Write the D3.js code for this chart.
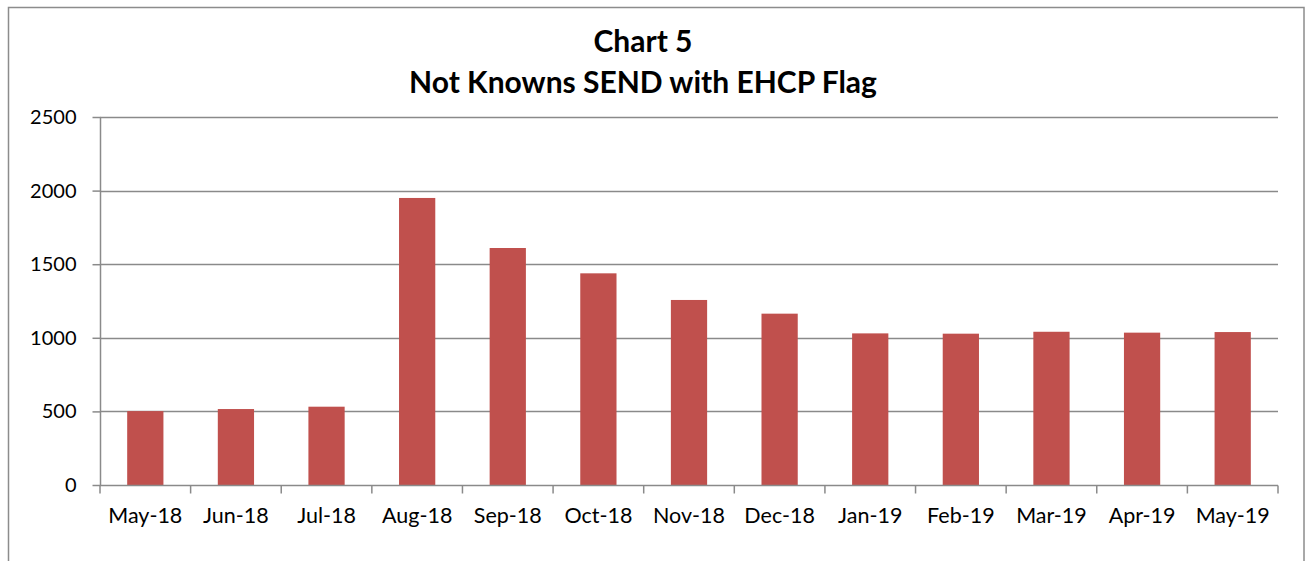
<!DOCTYPE html>
<html>
<head>
<meta charset="utf-8">
<script src="https://cdn.jsdelivr.net/npm/d3@7"></script>
<style>
html,body{margin:0;padding:0;background:#fff;}
svg{display:block;}
text{font-family:Lato,"Open Sans",sans-serif;}
</style>
</head>
<body>
<svg id="chart" width="1308" height="561"></svg>
<script>
const categories = ["May-18","Jun-18","Jul-18","Aug-18","Sep-18","Oct-18","Nov-18","Dec-18","Jan-19","Feb-19","Mar-19","Apr-19","May-19"];
const values = [502, 516, 532, 1950, 1610, 1438, 1257, 1164, 1030, 1028, 1041, 1035, 1039];
const yTicks = [0, 500, 1000, 1500, 2000, 2500];
const titleLines = ["Chart 5", "Not Knowns SEND with EHCP Flag"];

const svg = d3.select("#chart");
const m = {left: 100, right: 1278, top: 117, bottom: 485};

// outer border
svg.append("rect")
  .attr("x", 8.5).attr("y", 7.5)
  .attr("width", 1304 - 8.5).attr("height", 600)
  .attr("fill", "#fff").attr("stroke", "#8c8c8c").attr("stroke-width", 1.5);

const x = d3.scaleBand().domain(categories).range([m.left, m.right]).paddingInner(0.6).paddingOuter(0.3);
const y = d3.scaleLinear().domain([0, 2500]).range([m.bottom, m.top]);

// gridlines
svg.append("g").selectAll("line").data(yTicks.filter(d => d > 0)).join("line")
  .attr("x1", m.left).attr("x2", m.right)
  .attr("y1", d => Math.round(y(d)) + 0.5).attr("y2", d => Math.round(y(d)) + 0.5)
  .attr("stroke", "#8a8a8a").attr("stroke-width", 1.5);

// bars
svg.append("g").selectAll("rect").data(values).join("rect")
  .attr("x", (d, i) => x(categories[i]))
  .attr("width", x.bandwidth())
  .attr("y", d => y(d))
  .attr("height", d => y(0) - y(d))
  .attr("fill", "#C0504D");

// y axis
const yAxis = d3.axisLeft(y).tickValues(yTicks).tickSize(8).tickPadding(16).tickFormat(d3.format("d"));
const gy = svg.append("g").attr("transform", `translate(${m.left + 0.5},0)`).call(yAxis);
gy.select(".domain").attr("stroke", "#8a8a8a").attr("stroke-width", 1.5).attr("d", `M0,${m.top}V${m.bottom}`);
gy.selectAll(".tick line").attr("stroke", "#8a8a8a").attr("stroke-width", 1.5);
gy.selectAll(".tick text").attr("font-size", 20).attr("fill", "#000").attr("font-family", "Lato");

// x axis
const xAxis = d3.axisBottom(x).tickSize(0).tickPadding(22);
const gx = svg.append("g").attr("transform", `translate(0,${m.bottom + 0.5})`).call(xAxis);
gx.select(".domain").attr("stroke", "#8a8a8a").attr("stroke-width", 1.5).attr("d", `M${m.left},0H${m.right}`);
gx.selectAll(".tick text").attr("font-size", 21.5).attr("fill", "#000").attr("font-family", "Lato");
// boundary ticks between categories
const bounds = d3.range(categories.length + 1).map(i => m.left + i * (m.right - m.left) / categories.length);
gx.append("g").selectAll("line").data(bounds).join("line")
  .attr("x1", d => d).attr("x2", d => d).attr("y1", 0).attr("y2", 8)
  .attr("stroke", "#8a8a8a").attr("stroke-width", 1.5);

// title
const t = svg.append("text").attr("x", 643).attr("text-anchor", "middle")
  .attr("font-weight", "bold").attr("font-size", 30).attr("fill", "#000");
t.selectAll("tspan").data(titleLines).join("tspan")
  .attr("x", 643).attr("y", (d, i) => 52 + i * 41).text(d => d);
</script>
</body>
</html>
